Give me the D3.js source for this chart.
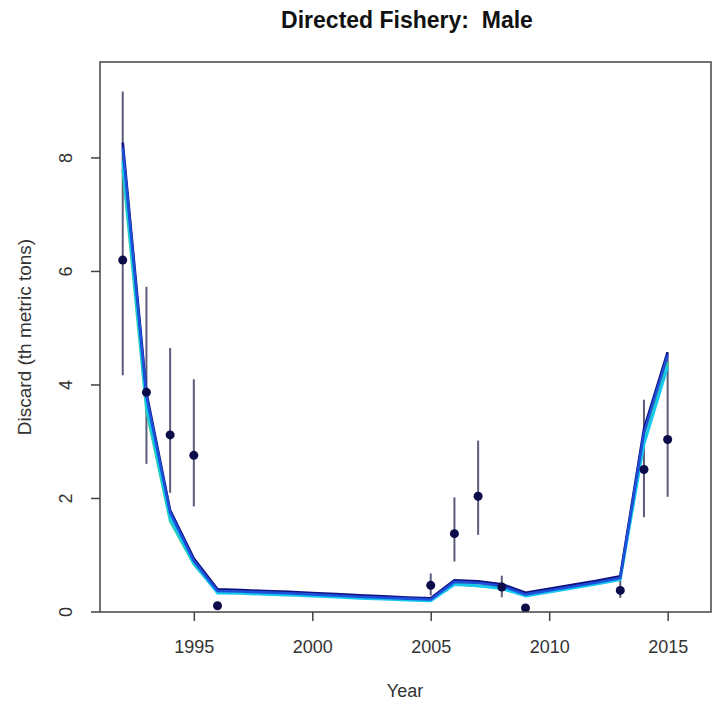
<!DOCTYPE html>
<html>
<head>
<meta charset="utf-8">
<script src="https://cdn.jsdelivr.net/npm/d3@7"></script>
<style>
  html, body { margin: 0; padding: 0; background: #fff; }
  svg { display: block; font-family: "Liberation Sans", Arial, sans-serif; }
</style>
</head>
<body>
<svg id="chart" width="713" height="704"></svg>
<script>
// Observed discards (thousand metric tons) with interval bounds
const obsYears = [1992, 1993, 1994, 1995, 1996, 2005, 2006, 2007, 2008, 2009, 2013, 2014, 2015];
const obsValue = [6.20, 3.87, 3.12, 2.76, 0.11, 0.47, 1.38, 2.04, 0.44, 0.07, 0.38, 2.51, 3.04];
const obsLower = [4.17, 2.61, 2.10, 1.86, 0.074, 0.29, 0.89, 1.36, 0.26, 0.047, 0.25, 1.67, 2.03];
const obsUpper = [9.17, 5.73, 4.65, 4.10, 0.165, 0.68, 2.02, 3.02, 0.64, 0.104, 0.57, 3.74, 4.54];

// Model-predicted discards, one series per model run
const fitYears = [1992, 1993, 1994, 1995, 1996, 1997, 1998, 1999, 2000, 2001, 2002, 2003,
                  2004, 2005, 2006, 2007, 2008, 2009, 2010, 2011, 2012, 2013, 2014, 2015];
const fitGreen = [7.80, 3.55, 1.60, 0.84, 0.35, 0.34, 0.325, 0.31, 0.295, 0.275, 0.255, 0.24,
                  0.225, 0.21, 0.50, 0.46, 0.43, 0.30, 0.37, 0.44, 0.51, 0.59, 3.00, 4.40];
const fitCyan  = [7.95, 3.65, 1.66, 0.86, 0.33, 0.325, 0.31, 0.295, 0.28, 0.26, 0.24, 0.225,
                  0.21, 0.195, 0.48, 0.46, 0.41, 0.28, 0.35, 0.42, 0.49, 0.57, 2.95, 4.32];
const fitNavy  = [8.27, 3.86, 1.79, 0.94, 0.40, 0.385, 0.37, 0.355, 0.335, 0.315, 0.295, 0.275,
                  0.255, 0.24, 0.56, 0.54, 0.49, 0.34, 0.41, 0.48, 0.55, 0.63, 3.22, 4.58];
const fitBlue  = [8.18, 3.80, 1.75, 0.90, 0.37, 0.36, 0.345, 0.33, 0.31, 0.29, 0.27, 0.25,
                  0.235, 0.22, 0.53, 0.51, 0.46, 0.31, 0.38, 0.45, 0.52, 0.60, 3.15, 4.52];
const fitSeries = [fitGreen, fitCyan, fitNavy, fitBlue];
const fitColors = ["#30d0a0", "#15c8f0", "#101080", "#1d50d8"];

const xTicks = [1995, 2000, 2005, 2010, 2015];
const yTicks = [0, 2, 4, 6, 8];

const svg = d3.select("#chart");
const plot = { left: 100, right: 711, top: 62, bottom: 612 };

const x = d3.scaleLinear().domain([1991.04, 2016.83]).range([plot.left, plot.right]);
const y = d3.scaleLinear().domain([0, 9.69]).range([plot.bottom, plot.top]);

// Title
svg.append("text")
  .attr("x", 407).attr("y", 28)
  .attr("text-anchor", "middle")
  .style("white-space", "pre")
  .attr("font-size", 23).attr("font-weight", "bold").attr("fill", "#111")
  .text("Directed Fishery:  Male");

// Axes
const xAxis = d3.axisBottom(x).tickValues(xTicks).tickFormat(d3.format("d"))
  .tickSize(9).tickPadding(19);
const gx = svg.append("g").attr("transform", `translate(0,${plot.bottom})`).call(xAxis);
gx.select(".domain").remove();
gx.selectAll("line").attr("stroke", "#444").attr("stroke-width", 1.5);
gx.selectAll("text").attr("font-size", 18).attr("fill", "#333")
  .attr("font-family", "Liberation Sans, Arial, sans-serif");

const yAxis = d3.axisLeft(y).tickValues(yTicks).tickSize(9).tickPadding(0);
const gy = svg.append("g").attr("transform", `translate(${plot.left},0)`).call(yAxis);
gy.select(".domain").remove();
gy.selectAll("line").attr("stroke", "#444").attr("stroke-width", 1.5);
gy.selectAll("text")
  .attr("font-size", 18).attr("fill", "#333")
  .attr("font-family", "Liberation Sans, Arial, sans-serif")
  .attr("x", null).attr("dy", null)
  .attr("text-anchor", "middle")
  .attr("transform", d => `translate(-28,${y(d)}) rotate(-90)`)
  .attr("y", 0);
gy.selectAll(".tick").attr("transform", null);
gy.selectAll(".tick line").attr("transform", d => `translate(0,${y(d)})`);

// Axis titles
svg.append("text")
  .attr("x", 405).attr("y", 697)
  .attr("text-anchor", "middle").attr("font-size", 18).attr("fill", "#333")
  .text("Year");
svg.append("text")
  .attr("transform", `translate(31,${(plot.top + plot.bottom) / 2}) rotate(-90)`)
  .attr("text-anchor", "middle").attr("font-size", 19).attr("fill", "#333")
  .text("Discard (th metric tons)");

// Clip for data marks
svg.append("clipPath").attr("id", "plotclip").append("rect")
  .attr("x", plot.left).attr("y", plot.top)
  .attr("width", plot.right - plot.left).attr("height", plot.bottom - plot.top);
const marks = svg.append("g").attr("clip-path", "url(#plotclip)");

// Interval bars
marks.selectAll("line.err").data(obsYears).join("line")
  .attr("class", "err")
  .attr("x1", d => x(d)).attr("x2", d => x(d))
  .attr("y1", (d, i) => y(obsLower[i])).attr("y2", (d, i) => y(obsUpper[i]))
  .attr("stroke", "#5c5c7a").attr("stroke-width", 2);

// Fitted lines
const line = d3.line().x((d, i) => x(fitYears[i])).y(d => y(d));
fitSeries.forEach((s, k) => {
  marks.append("path").datum(s)
    .attr("d", line).attr("fill", "none")
    .attr("stroke", fitColors[k]).attr("stroke-width", 2.6)
    .attr("stroke-linejoin", "round");
});

// Observed points
marks.selectAll("circle").data(obsYears).join("circle")
  .attr("cx", d => x(d)).attr("cy", (d, i) => y(obsValue[i]))
  .attr("r", 4.5).attr("fill", "#0c0c4a");

// Plot frame
svg.append("rect")
  .attr("x", plot.left).attr("y", plot.top)
  .attr("width", plot.right - plot.left).attr("height", plot.bottom - plot.top)
  .attr("fill", "none").attr("stroke", "#444").attr("stroke-width", 1.5);
</script>
</body>
</html>
